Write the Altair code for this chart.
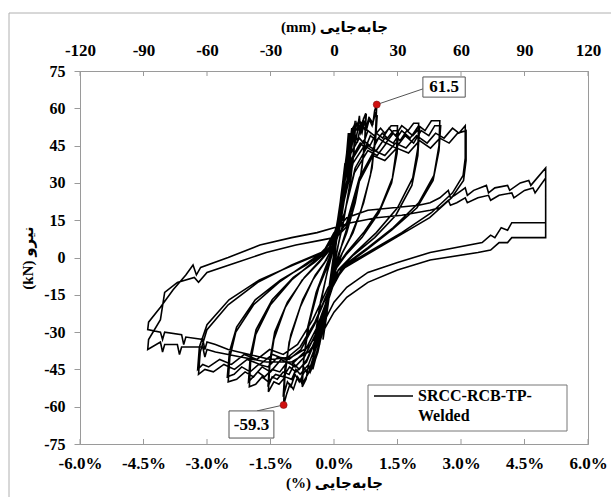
import altair as alt
import pandas as pd

# ---------------- data (drift in %, force in kN) ----------------
drift_c1 = [0.00, 0.08, 0.16, 0.25, 0.22, 0.12, 0.02, -0.08, -0.17, -0.25, -0.22, -0.12, -0.02, 0.08, 0.17, 0.26, 0.22, 0.10, 0.00, -0.10, -0.18, -0.26, -0.21, -0.10, 0.00]
force_c1 = [0.0, 12.0, 24.0, 36.0, 30.0, 16.0, 3.0, -10.0, -21.0, -32.0, -26.0, -13.0, -2.0, 12.0, 25.0, 38.0, 29.0, 12.0, -1.0, -14.0, -24.0, -33.0, -24.0, -10.0, 2.0]

drift_c2 = [0.08, 0.18, 0.30, 0.36, 0.38, 0.42, 0.46, 0.50, 0.47, 0.40, 0.25, 0.10, -0.02, -0.15, -0.28, -0.38, -0.44, -0.50, -0.46, -0.36, -0.20, -0.06, 0.06, 0.18, 0.30, 0.34, 0.37, 0.44, 0.51, 0.47, 0.38, 0.22, 0.06, -0.06, -0.20, -0.34, -0.45, -0.51, -0.46, -0.32, -0.16, -0.02]
force_c2 = [12.0, 26.0, 40.0, 47.0, 42.0, 50.0, 48.0, 55.0, 44.0, 32.0, 17.0, 5.0, -6.0, -18.0, -30.0, -38.0, -41.0, -45.0, -35.0, -22.0, -9.0, 2.0, 12.0, 26.0, 42.0, 50.0, 44.0, 52.0, 54.0, 42.0, 30.0, 14.0, 2.0, -9.0, -22.0, -35.0, -40.0, -44.0, -33.0, -18.0, -6.0, 3.0]

drift_c3 = [0.10, 0.22, 0.32, 0.38, 0.40, 0.48, 0.55, 0.60, 0.62, 0.68, 0.75, 0.73, 0.66, 0.50, 0.30, 0.12, -0.02, -0.16, -0.32, -0.46, -0.56, -0.60, -0.66, -0.75, -0.72, -0.62, -0.42, -0.20, -0.04, 0.10, 0.24, 0.36, 0.42, 0.45, 0.54, 0.62, 0.70, 0.76, 0.72, 0.62, 0.42, 0.20, 0.02, -0.14, -0.30, -0.48, -0.62, -0.76, -0.71, -0.58, -0.36, -0.14, 0.00]
force_c3 = [12, 28, 42, 50, 45, 53, 51, 57, 52, 55, 58, 48, 36, 22, 10, 2, -6, -18, -32, -42, -46, -43, -49, -52, -42, -28, -14, -4, 3, 12, 28, 44, 52, 47, 54, 50, 56, 57, 44, 32, 18, 6, -5, -17, -31, -43, -47, -51, -40, -26, -12, -3, 4]

drift_c4 = [0.12, 0.26, 0.38, 0.46, 0.50, 0.58, 0.66, 0.72, 0.76, 0.84, 0.92, 0.96, 1.01, 0.98, 0.90, 0.70, 0.45, 0.20, 0.02, -0.14, -0.30, -0.48, -0.62, -0.72, -0.78, -0.86, -0.96, -1.04, -1.12, -1.19, -1.16, -1.06, -0.80, -0.50, -0.22, -0.04, 0.10, 0.24, 0.38, 0.48, 0.56, 0.64, 0.74, 0.82, 0.90, 0.98, 1.02, 0.98, 0.86, 0.64, 0.38, 0.14, -0.04, -0.20, -0.38, -0.56, -0.70, -0.82, -0.92, -1.02, -1.10, -1.20, -1.16, -1.02, -0.74, -0.44, -0.18, -0.02]
force_c4 = [10, 25, 40, 49, 46, 53, 50, 55, 51, 56, 54, 59, 61.5, 50, 36, 22, 10, 2, -6, -18, -32, -42, -47, -44, -50, -48, -53, -51, -55, -59.3, -48, -34, -20, -9, -2, 4, 14, 30, 44, 50, 47, 54, 51, 56, 53, 58, 57, 47, 33, 19, 8, 0, -7, -20, -34, -44, -46, -50, -47, -52, -50, -56, -45, -31, -17, -7, -1, 5]

drift_c5 = [0.20, 0.40, 0.60, 0.70, 0.80, 0.95, 1.10, 1.20, 1.35, 1.50, 1.48, 1.38, 1.10, 0.70, 0.30, 0.00, -0.20, -0.40, -0.60, -0.80, -0.90, -1.00, -1.15, -1.30, -1.42, -1.55, -1.52, -1.42, -1.15, -0.75, -0.35, 0.00,
            0.22, 0.42, 0.62, 0.74, 0.86, 1.00, 1.14, 1.26, 1.40, 1.52, 1.49, 1.36, 1.06, 0.66, 0.28, -0.02, -0.22, -0.44, -0.64, -0.82, -0.94, -1.06, -1.20, -1.34, -1.46, -1.56, -1.52, -1.40, -1.10, -0.70, -0.32, 0.00]
force_c5 = [26, 42, 48, 46, 51, 49, 52, 50, 53, 53, 44, 32, 20, 10, 2, -5, -20, -34, -43, -47, -45, -49, -48, -51, -50, -54, -44, -33, -20, -9, -2, 5,
            24, 40, 46, 44, 49, 47, 50, 48, 51, 51, 42, 30, 18, 8, 1, -6, -20, -33, -41, -45, -43, -47, -46, -49, -48, -52, -42, -30, -18, -8, -1, 5]

drift_c6 = [0.22, 0.45, 0.70, 0.85, 1.00, 1.15, 1.30, 1.45, 1.60, 1.75, 1.88, 2.00, 1.98, 1.86, 1.50, 1.00, 0.50, 0.10, -0.15, -0.40, -0.65, -0.90, -1.05, -1.20, -1.38, -1.55, -1.70, -1.85, -2.00, -1.97, -1.85, -1.50, -1.00, -0.50, -0.10,
            0.20, 0.45, 0.72, 0.90, 1.05, 1.22, 1.40, 1.56, 1.72, 1.86, 2.02, 1.98, 1.84, 1.46, 0.96, 0.46, 0.06, -0.18, -0.44, -0.70, -0.92, -1.10, -1.28, -1.46, -1.64, -1.80, -2.02, -1.98, -1.84, -1.46, -0.96, -0.46, -0.06]
force_c6 = [22, 40, 47, 45, 50, 48, 52, 49, 53, 51, 54, 54, 44, 32, 20, 10, 2, -5, -18, -32, -42, -46, -44, -48, -47, -50, -48, -51, -52, -42, -31, -19, -9, -2, 4,
            20, 38, 45, 43, 48, 46, 50, 47, 51, 49, 52, 41, 29, 17, 8, 1, -6, -18, -31, -40, -44, -42, -46, -45, -48, -46, -50, -40, -29, -17, -8, -2, 4]

drift_c7 = [0.25, 0.50, 0.80, 1.00, 1.20, 1.40, 1.60, 1.80, 2.00, 2.15, 2.30, 2.50, 2.48, 2.36, 2.00, 1.40, 0.80, 0.25, -0.10, -0.40, -0.70, -1.00, -1.25, -1.50, -1.70, -1.90, -2.10, -2.30, -2.50, -2.46, -2.32, -1.90, -1.30, -0.70, -0.20,
            0.22, 0.48, 0.80, 1.02, 1.24, 1.46, 1.68, 1.88, 2.06, 2.24, 2.38, 2.52, 2.48, 2.34, 1.96, 1.36, 0.76, 0.20, -0.14, -0.46, -0.78, -1.06, -1.32, -1.56, -1.78, -1.98, -2.18, -2.36, -2.52, -2.47, -2.30, -1.86, -1.26, -0.66, -0.16]
force_c7 = [18, 36, 45, 43, 48, 46, 51, 48, 53, 51, 55, 55, 45, 33, 22, 12, 4, -3, -14, -28, -38, -43, -41, -46, -44, -48, -46, -49, -50, -40, -30, -19, -10, -3, 3,
            16, 34, 43, 41, 46, 44, 49, 46, 51, 49, 53, 53, 43, 31, 20, 11, 3, -4, -14, -27, -37, -41, -40, -44, -43, -46, -44, -47, -48, -38, -28, -17, -9, -3, 3]

drift_c8 = [0.30, 0.60, 0.95, 1.20, 1.45, 1.70, 1.95, 2.20, 2.40, 2.60, 2.80, 2.95, 3.10, 3.10, 3.05, 2.80, 2.30, 1.60, 0.90, 0.30, -0.10, -0.45, -0.80, -1.15, -1.45, -1.75, -2.05, -2.35, -2.60, -2.85, -3.05, -3.20, -3.16, -3.00, -2.50, -1.80, -1.00, -0.30,
            0.28, 0.58, 0.92, 1.20, 1.48, 1.76, 2.02, 2.28, 2.50, 2.72, 2.92, 3.12, 3.12, 3.06, 2.78, 2.26, 1.56, 0.86, 0.26, -0.14, -0.50, -0.86, -1.20, -1.52, -1.82, -2.12, -2.42, -2.70, -2.96, -3.10, -3.22, -3.18, -3.00, -2.48, -1.76, -0.96, -0.26]
force_c8 = [14, 32, 43, 41, 46, 44, 49, 46, 50, 48, 52, 50, 53, 40, 33, 26, 18, 10, 3, -3, -12, -26, -36, -41, -39, -43, -41, -45, -43, -46, -45, -47, -38, -29, -19, -10, -3, 2,
            12, 30, 41, 39, 44, 42, 47, 44, 48, 46, 50, 51, 39, 31, 24, 16, 9, 2, -4, -12, -25, -35, -39, -37, -41, -39, -43, -41, -44, -43, -45, -36, -27, -17, -9, -3, 2]

drift_c9 = [0.00, 0.30, 0.80, 1.40, 2.00, 2.27, 2.50, 2.70, 2.75, 2.85, 3.10, 3.15, 3.30, 3.60, 3.65, 3.80, 4.10, 4.15, 4.40, 4.60, 4.65, 5.00,
            5.00, 4.85, 4.20, 4.10, 3.95, 3.80, 3.70, 3.50, 2.27, 1.50, 0.80, 0.30, 0.00,
            -0.30, -0.60, -1.00, -1.50, -2.00, -2.50, -2.80, -3.00, -3.05, -3.10, -3.50, -3.55, -3.60, -4.00, -4.05, -4.10, -4.40,
            -4.38, -4.10, -3.80, -3.50, -3.33, -3.25, -3.15, -2.50, -1.75, -1.00, -0.40, 0.00]
force_c9 = [10, 16, 19, 20, 21, 22, 24, 27, 24, 25, 28, 25, 27, 29, 26, 28, 29, 27, 30, 31, 29, 36,
            14, 14, 14, 11, 12, 8, 9, 6, 2, -2, -6, -12, -18,
            -28, -36, -40, -41, -39, -37, -35, -34, -37, -33, -32, -35, -31, -30, -33, -30, -29,
            -26, -20, -13, -7, -3, -7, -4, 0, 5, 8, 10, 12]

drift_c10 = [0.40, 1.00, 1.60, 2.27, 2.50, 2.70, 2.75, 2.90, 3.10, 3.15, 3.40, 3.65, 3.70, 3.90, 4.20, 4.25, 4.50, 4.70, 4.75, 5.00,
             5.00, 4.80, 4.20, 4.10, 3.90, 3.70, 3.40, 2.27, 1.50, 0.80, 0.30, 0.00,
             -0.30, -0.60, -1.00, -1.60, -2.20, -2.80, -3.00, -3.05, -3.10, -3.60, -3.65, -3.70, -4.00, -4.05, -4.10, -4.40,
             -4.38, -4.10, -4.00, -3.70, -3.30, -3.20, -3.00, -2.30, -1.60, -0.90, -0.30, 0.00]
force_c10 = [14, 16, 17, 19, 20, 23, 21, 22, 24, 22, 24, 25, 23, 25, 26, 24, 27, 28, 26, 32,
             8, 8, 8, 6, 6, 3, 2, -1, -5, -10, -16, -22,
             -31, -38, -42, -42, -40, -38, -37, -40, -36, -36, -39, -35, -35, -38, -34, -37,
             -33, -25, -14, -10, -8, -10, -6, -2, 2, 5, 7, 8]

series_name = "SRCC-RCB-TP-Welded"
legend_lines = ["SRCC-RCB-TP-", "Welded"]

pct_ticks = [-6.0, -4.5, -3.0, -1.5, 0.0, 1.5, 3.0, 4.5, 6.0]
mm_ticks = [-120, -90, -60, -30, 0, 30, 60, 90, 120]
force_ticks = [-75, -60, -45, -30, -15, 0, 15, 30, 45, 60, 75]

peak_drift = [1.01, -1.19]
peak_force = [61.5, -59.3]
peak_labels = ["61.5", "-59.3"]
label_drift = [2.60, -1.95]
label_force = [68.4, -67.2]
leader_drift = [2.10, -1.82]
leader_force = [67.8, -61.7]
box_left = [2.10, -2.48]
box_right = [3.10, -1.42]
box_top = [72.6, -61.7]
box_bottom = [64.5, -72.6]

# ---------------- tables ----------------
cycles = [(drift_c1, force_c1), (drift_c2, force_c2), (drift_c3, force_c3), (drift_c4, force_c4),
          (drift_c5, force_c5), (drift_c6, force_c6), (drift_c7, force_c7), (drift_c8, force_c8),
          (drift_c9, force_c9), (drift_c10, force_c10)]
rows = []
step = 0
for dl, fl in cycles:
    assert len(dl) == len(fl), (len(dl), len(fl))
    for d, f in zip(dl, fl):
        rows.append({"step": step, "drift": d, "force": f, "series": series_name})
        step += 1
loop_df = pd.DataFrame(rows)

peaks_df = pd.DataFrame({
    "drift": peak_drift, "force": peak_force, "label": peak_labels,
    "ld": label_drift, "lf": label_force, "ed": leader_drift, "ef": leader_force,
    "bl": box_left, "br": box_right, "bt": box_top, "bb": box_bottom,
})
ticks_df = pd.DataFrame({"drift": pct_ticks})
mm_df = pd.DataFrame({"mm": mm_ticks})
one = pd.DataFrame({"k": [0]})

# ---------------- styling ----------------
W, H = 508, 373
FONT = "'Liberation Serif', 'DejaVu Serif', 'DejaVu Sans'"
GRAY = "#9a9a9a"

xs = alt.Scale(domain=[-6, 6], nice=False, zero=False)
ys = alt.Scale(domain=[-75, 75], nice=False, zero=False)

x_axis = alt.Axis(values=pct_ticks,
                  labelExpr="(datum.value < 0 ? '-' : '') + format(abs(datum.value), '.1f') + '%'",
                  labelOverlap=False, labelFlush=False, labelFontSize=17,
                  title="(%) جابه\u200cجایی", ticks=False,
                  tickSize=0, labelPadding=11, titlePadding=4)
y_axis = alt.Axis(values=force_ticks, labelExpr="'' + datum.value", labelOverlap=False,
                  labelFlush=False, title="(kN) نیرو", tickSize=6, tickColor=GRAY,
                  labelPadding=9, titlePadding=8)


def X(field):
    return alt.X(f"{field}:Q", scale=xs, axis=x_axis)


def Y(field):
    return alt.Y(f"{field}:Q", scale=ys, axis=y_axis)


loop = alt.Chart(loop_df).mark_line(color="black", strokeWidth=1.6, strokeJoin="miter").encode(
    x=X("drift"), y=Y("force"), order="step:Q"
)

tick_bottom = alt.Chart(ticks_df).mark_rule(color=GRAY).encode(
    x=X("drift"), y=alt.value(H), y2=alt.value(H - 5)
)
tick_top = alt.Chart(ticks_df).mark_rule(color=GRAY).encode(
    x=X("drift"), y=alt.value(0), y2=alt.value(5)
)

leaders = alt.Chart(peaks_df).mark_rule(color="#555", strokeWidth=1).encode(
    x=X("drift"), y=Y("force"), x2="ed:Q", y2="ef:Q"
)
boxes = alt.Chart(peaks_df).mark_rect(fill="white", stroke="#555", strokeWidth=1).encode(
    x=X("bl"), x2="br:Q", y=Y("bt"), y2="bb:Q"
)
box_text = alt.Chart(peaks_df).mark_text(font=FONT, fontWeight="bold", fontSize=17,
                                          color="black", baseline="middle").encode(
    x=X("ld"), y=Y("lf"), text="label:N"
)
dots = alt.Chart(peaks_df).mark_point(filled=True, color="#d01010", size=50, opacity=1,
                                       stroke="#801010", strokeWidth=0.6).encode(
    x=X("drift"), y=Y("force")
)

# legend (drawn box)
leg_box = alt.Chart(one).mark_rect(fill="white", stroke="#777", strokeWidth=1).encode(
    x=alt.value(288), x2=alt.value(487), y=alt.value(314), y2=alt.value(360)
)
leg_sym = alt.Chart(one).mark_rule(color="black", strokeWidth=1.5).encode(
    x=alt.value(294), x2=alt.value(333), y=alt.value(325)
)
leg_t1 = alt.Chart(one).mark_text(font=FONT, fontWeight="bold", fontSize=16, align="left",
                                  baseline="middle", color="black").encode(
    x=alt.value(338), y=alt.value(325), text=alt.value(legend_lines[0])
)
leg_t2 = alt.Chart(one).mark_text(font=FONT, fontWeight="bold", fontSize=16, align="left",
                                  baseline="middle", color="black").encode(
    x=alt.value(338), y=alt.value(345), text=alt.value(legend_lines[1])
)

frame = alt.Chart(one).mark_rect(fillOpacity=0, stroke="#b0b0b0", strokeWidth=1).encode(
    x=alt.value(-71), y=alt.value(-58), x2=alt.value(W + 60), y2=alt.value(H + 80)
)

inner = alt.layer(frame, loop, tick_bottom, tick_top, leaders, boxes, box_text, dots,
                  leg_box, leg_sym, leg_t1, leg_t2)

top = alt.Chart(mm_df).mark_point(opacity=0).encode(
    x=alt.X("mm:Q", scale=alt.Scale(domain=[-120, 120], nice=False, zero=False),
            axis=alt.Axis(orient="top", values=mm_ticks, labelExpr="'' + datum.value",
                          labelOverlap=False, labelFlush=False, labelFontSize=17,
                          title="(mm) جابه\u200cجایی",
                          ticks=False, tickSize=0, labelPadding=12, titlePadding=7))
)

chart = alt.layer(inner, top).resolve_scale(x="independent").properties(
    width=W, height=H,
    autosize=alt.AutoSizeParams(type="none"),
    padding={"left": 80, "top": 71, "right": 23, "bottom": 53},
    background="white",
).configure_view(stroke=GRAY, strokeWidth=1).configure_axis(
    grid=False, domainColor=GRAY, labelFont=FONT, labelFontWeight="bold", labelFontSize=16,
    labelColor="black", titleFont=FONT, titleFontWeight="bold", titleFontSize=15,
    titleColor="black"
)

chart.save("out.html", embed_options={"renderer": "svg", "actions": False})
